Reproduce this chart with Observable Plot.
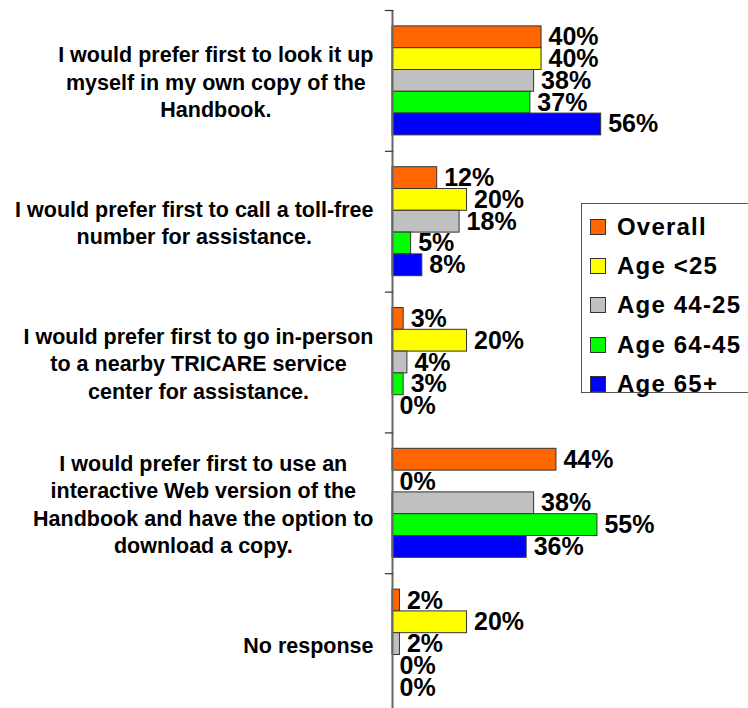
<!DOCTYPE html>
<html><head><meta charset="utf-8">
<script src="https://cdn.jsdelivr.net/npm/d3@7"></script>
<script src="https://cdn.jsdelivr.net/npm/@observablehq/plot@0.6"></script>
<style>
html,body{margin:0;padding:0;background:#fff;overflow:hidden;}
#wrap{position:relative;width:748px;height:708px;overflow:hidden;}
#legend{position:absolute;left:581px;top:203px;width:180px;height:190px;border:1.5px solid #555;background:#fff;box-sizing:border-box;padding-top:3px;}
.row{display:flex;align-items:center;height:39.4px;padding-left:8px;font:bold 24px 'Liberation Sans',Arial,sans-serif;letter-spacing:1.2px;color:#000;white-space:nowrap;}
.sw{width:14px;height:14px;border:1px solid #333;margin-right:11px;flex:none;}
</style></head><body><div id="wrap"><div id="legend"></div></div>
<script>
const categories = [
  "I would prefer first to look it up\nmyself in my own copy of the\nHandbook.",
  "I would prefer first to call a toll-free\nnumber for assistance.",
  "I would prefer first to go in-person\nto a nearby TRICARE service\ncenter for assistance.",
  "I would prefer first to use an\ninteractive Web version of the\nHandbook and have the option to\ndownload a copy.",
  "No response"
];
const seriesNames = ["Overall", "Age <25", "Age 44-25", "Age 64-45", "Age 65+"];
const seriesColors = ["#FF6600", "#FFFF00", "#C0C0C0", "#00FF00", "#0000FF"];
const overall   = [40, 12, 3, 44, 2];
const ageUnder25 = [40, 20, 20, 0, 20];
const age44to25 = [38, 18, 4, 38, 2];
const age64to45 = [37, 5, 3, 55, 0];
const age65plus = [56, 8, 0, 36, 0];
const seriesValues = [overall, ageUnder25, age44to25, age64to45, age65plus];

const rows = categories.flatMap((c, i) =>
  seriesNames.map((s, j) => ({category: c, series: s, value: seriesValues[j][i]})));

const FONT = "'Liberation Sans', Arial, sans-serif";
const catFontSize = 21.5;
const ctx = document.createElement("canvas").getContext("2d");
ctx.font = `bold ${catFontSize}px ${FONT}`;
const maxW = c => Math.max(...c.split("\n").map(l => ctx.measureText(l).width));

const W = 748, H = 714, ML = 392, MR = 2, MT = 10;
const plotW = W - ML - MR;

const chart = Plot.plot({
  width: W, height: H,
  marginLeft: ML, marginRight: MR, marginTop: MT, marginBottom: 0,
  style: {fontFamily: FONT, background: "transparent", overflow: "visible"},
  x: {domain: [0, 95], axis: null},
  y: {domain: seriesNames, paddingInner: 0, paddingOuter: 0.73, round: false, axis: null},
  fy: {domain: categories, padding: 0, round: false, axis: null},
  color: {domain: seriesNames, range: seriesColors},
  marks: [
    Plot.barX(rows, {x: "value", y: "series", fy: "category", fill: "series", stroke: "#333", strokeWidth: 1}),
    Plot.text(rows, {x: "value", y: "series", fy: "category", text: d => d.value + "%",
      textAnchor: "start", dx: 7, fontSize: 25, fontWeight: "bold", fill: "#000"}),
    Plot.ruleX([0], {stroke: "#666", strokeWidth: 2}),
    Plot.frame({anchor: "top", insetLeft: -7, insetRight: plotW, stroke: "#333", strokeWidth: 1.2}),
    ...categories.map(c => Plot.text([c], {fy: d => d, frameAnchor: "left", text: d => d,
      textAnchor: "middle", dx: -19 - maxW(c) / 2, fontSize: catFontSize, fontWeight: "bold",
      lineHeight: 1.27, fill: "#000"}))
  ]
});
chart.style.position = "absolute";
chart.style.left = "0px";
chart.style.top = "0px";
const wrap = document.getElementById("wrap");
wrap.insertBefore(chart, wrap.firstChild);

const legend = document.getElementById("legend");
seriesNames.forEach((s, i) => {
  const row = document.createElement("div");
  row.className = "row";
  const sw = document.createElement("div");
  sw.className = "sw";
  sw.style.background = seriesColors[i];
  row.appendChild(sw);
  row.appendChild(document.createTextNode(s));
  legend.appendChild(row);
});
</script>
</body></html>
